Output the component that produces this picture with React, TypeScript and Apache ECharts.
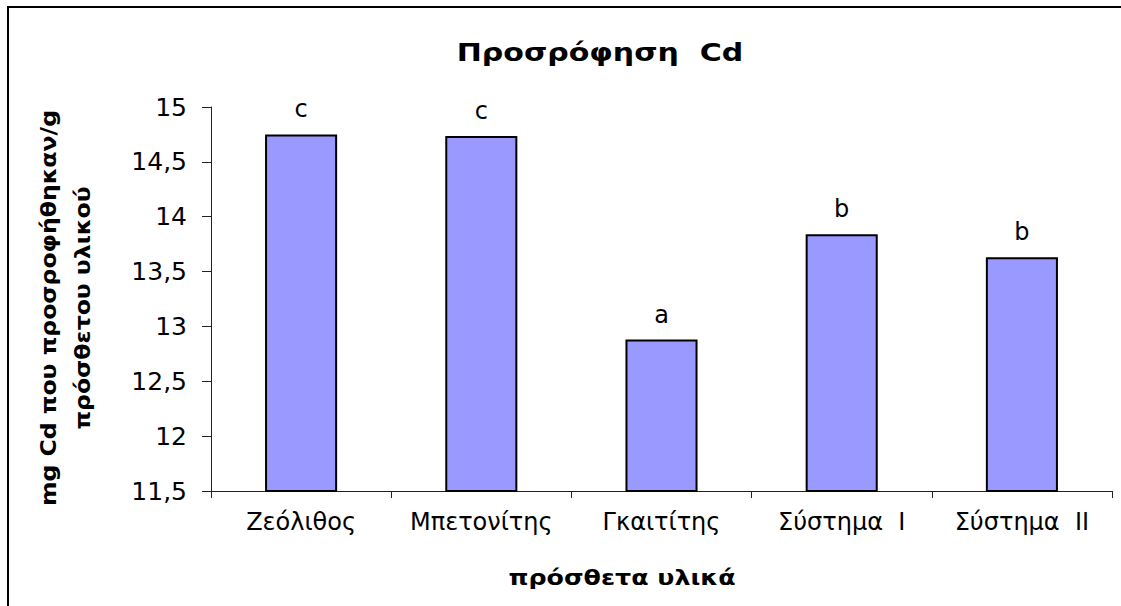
import React, { useEffect, useRef } from "react";
import * as echarts from "echarts";

const categories = ["Ζεόλιθος", "Μπετονίτης", "Γκαιτίτης", "Σύστημα  I", "Σύστημα  II"];
const values = [14.75, 14.735, 12.88, 13.84, 13.63];
const letters = ["c", "c", "a", "b", "b"];
const yMin = 11.5;
const yMax = 15;
const yStep = 0.5;
const titleText = "Προσρόφηση  Cd";
const yName = "mg Cd που προσροφήθηκαν/g\nπρόσθετου υλικού";
const xName = "πρόσθετα υλικά";

export default function App() {
  const ref = useRef<HTMLDivElement>(null);
  useEffect(() => {
    document.body.style.margin = "0";
    const chart = echarts.init(ref.current!, null, { renderer: "svg" });
    const font = "'DejaVu Sans', sans-serif";
    chart.setOption({
      animation: false,
      backgroundColor: "#fff",
      graphic: [
        {
          type: "rect",
          shape: { x: 8, y: 7, width: 1200, height: 700 },
          style: { fill: "none", stroke: "#000", lineWidth: 2 },
          silent: true,
        },
        {
          type: "text",
          x: 600,
          y: 52,
          scaleX: 1.2,
          style: {
            text: titleText,
            fontFamily: font,
            fontSize: 25,
            fontWeight: "bold",
            fill: "#000",
            align: "center",
            verticalAlign: "middle",
          },
        },
        {
          type: "text",
          x: 622,
          y: 578,
          scaleX: 1.15,
          style: {
            text: xName,
            fontFamily: font,
            fontSize: 22,
            fontWeight: "bold",
            fill: "#000",
            align: "center",
            verticalAlign: "middle",
          },
        },
        {
          type: "text",
          x: 65,
          y: 308,
          rotation: Math.PI / 2,
          scaleX: 1.07,
          style: {
            text: yName,
            fontFamily: font,
            fontSize: 22,
            fontWeight: "bold",
            fill: "#000",
            align: "center",
            verticalAlign: "middle",
            lineHeight: 34,
          },
        },
      ],
      grid: { left: 211, right: 9, top: 107, bottom: 115, containLabel: false },
      xAxis: {
        type: "category",
        data: categories,
        axisLine: { lineStyle: { color: "#222", width: 1 } },
        axisTick: { show: true, length: 7, inside: false, lineStyle: { color: "#222" } },
        axisLabel: {
          interval: 0,
          hideOverlap: false,
          margin: 19,
          fontFamily: font,
          fontSize: 24,
          color: "#000",
        },
      },
      yAxis: {
        type: "value",
        min: yMin,
        max: yMax,
        interval: yStep,
        splitLine: { show: false },
        axisLine: { show: true, lineStyle: { color: "#222", width: 1 } },
        axisTick: { show: true, length: 9, lineStyle: { color: "#222" } },
        axisLabel: {
          margin: 24,
          fontFamily: font,
          fontSize: 25,
          color: "#000",
          formatter: (v: number) => String(v).replace(".", ","),
        },
      },
      series: [
        {
          type: "bar",
          data: values,
          barWidth: "40%",
          itemStyle: { color: "#9999FF", borderColor: "#000", borderWidth: 2 },
          label: {
            show: true,
            position: "top",
            distance: 13,
            formatter: (p: any) => letters[p.dataIndex],
            fontFamily: font,
            fontSize: 24,
            color: "#000",
          },
        },
      ],
    });
    return () => chart.dispose();
  }, []);
  return <div ref={ref} style={{ width: 1121, height: 606 }} />;
}
